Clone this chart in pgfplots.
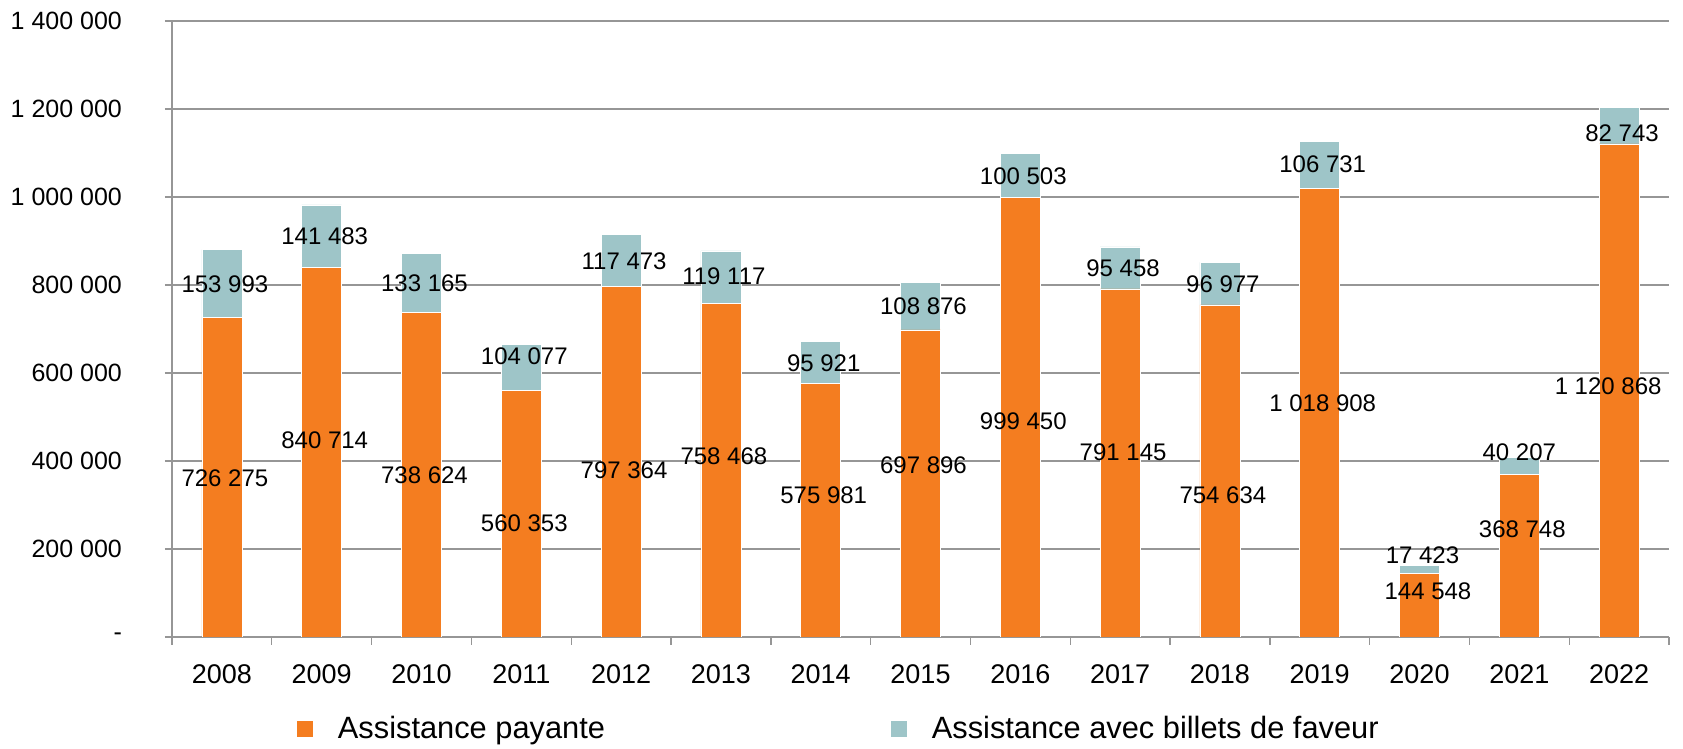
\documentclass[border=0pt]{standalone}
\usepackage{pgfplots}
\pgfplotsset{compat=1.18}
\usepackage{fontspec}
\setmainfont{Liberation Sans}
\definecolor{orangebar}{RGB}{244,125,32}
\definecolor{tealbar}{RGB}{158,197,200}
\definecolor{gridgray}{RGB}{150,150,150}
\begin{document}
\begin{tikzpicture}
\useasboundingbox (-86pt,-56pt) rectangle (755.5pt,318.5pt);
\begin{axis}[
  scale only axis,
  width=748.5pt, height=308pt,
  ybar stacked, bar width=20pt,
  xmin=-0.5, xmax=14.5,
  ymin=0, ymax=1400000,
  scaled y ticks=false,
  axis x line*=bottom, axis y line*=left,
  axis line style={draw=gridgray, line width=0.7pt},
  xtick={0,...,14},
  xticklabels={2008,2009,2010,2011,2012,2013,2014,2015,2016,2017,2018,2019,2020,2021,2022},
  major x tick style={draw=none},
  minor xtick={-0.5,0.5,...,14.5},
  minor x tick style={draw=gridgray, line width=0.7pt},
  minor tick length=4pt,
  ytick={0,200000,400000,600000,800000,1000000,1200000,1400000},
  yticklabels={-,200 000,400 000,600 000,800 000,1 000 000,1 200 000,1 400 000},
  major tick length=3.5pt,
  tick align=outside,
  y tick style={draw=gridgray, line width=0.7pt},
  ymajorgrids,
  grid style={draw=gridgray, line width=0.7pt},
  yticklabel style={font=\fontsize{12.5}{15}\selectfont, anchor=east, xshift=-18pt},
  xticklabel style={font=\fontsize{13.5}{16}\selectfont, yshift=-7pt},
  legend columns=2,
  legend image code/.code={\fill[#1] (0pt,-4.25pt) rectangle (8.5pt,4.25pt);},
  legend style={draw=none, fill=none, inner sep=0pt, outer sep=0pt,
    at={(axis description cs:0.0828,-0.1494)}, anchor=west,
    font=\fontsize{15.4}{18}\selectfont,
    /tikz/every odd column/.append style={column sep=10.2pt},
    /tikz/every even column/.append style={column sep=140.4pt}},
]
\addplot[fill=orangebar, draw=white, line width=0.3pt] coordinates {
(0,726275) (1,840714) (2,738624) (3,560353) (4,797364) (5,758468) (6,575981) (7,697896)
(8,999450) (9,791145) (10,754634) (11,1018908) (12,144548) (13,368748) (14,1120868)};
\addlegendentry{Assistance payante}
\addplot[fill=tealbar, draw=white, line width=0.3pt] coordinates {
(0,153993) (1,141483) (2,133165) (3,104077) (4,117473) (5,119117) (6,95921) (7,108876)
(8,100503) (9,95458) (10,96977) (11,106731) (12,17423) (13,40207) (14,82743)};
\addlegendentry{Assistance avec billets de faveur}
\end{axis}
\begin{axis}[
  scale only axis,
  width=748.5pt, height=308pt,
  xmin=-0.5, xmax=14.5,
  ymin=0, ymax=1400000,
  hide axis, clip=false,
]
\addplot[draw=none, mark=none, nodes near coords, point meta=explicit symbolic,
  every node near coord/.append style={anchor=center, xshift=1.5pt, font=\fontsize{12}{14}\selectfont, text=black}]
  table[col sep=comma, meta=l] {
x,y,l
0,360600,726 275
1,447700,840 714
2,368000,738 624
3,258300,560 353
4,379500,797 364
5,409800,758 468
6,322700,575 981
7,391000,697 896
8,491000,999 450
9,421000,791 145
10,322700,754 634
11,531000,1 018 908
12.055,103000,144 548
13,244700,368 748
13.86,571000,1 120 868
0,801600,153 993
1,909800,141 483
2,803800,133 165
3,637000,104 077
4,854500,117 473
5,819000,119 117
6,622000,95 921
7,752000,108 876
8,1047700,100 503
9,838000,95 458
10,801600,96 977
11,1074000,106 731
12,186000,17 423
12.97,419000,40 207
14,1146000,82 743
};
\end{axis}
\end{tikzpicture}
\end{document}
